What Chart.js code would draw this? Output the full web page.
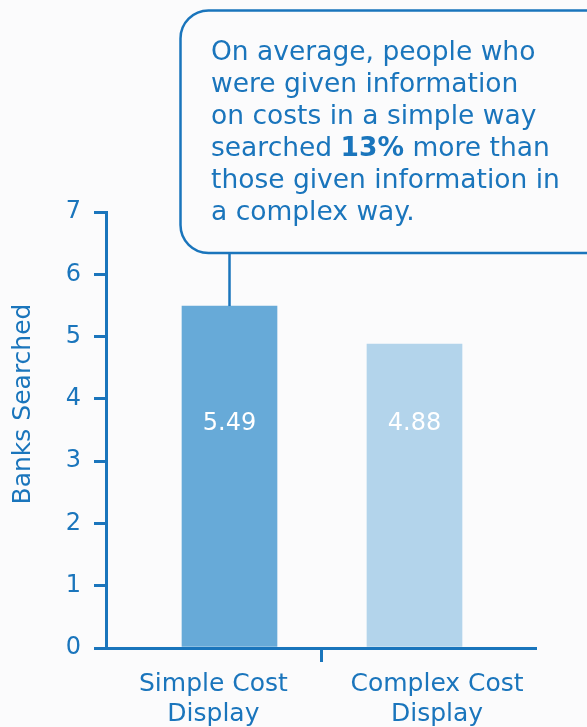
<!DOCTYPE html>
<html>
<head>
<meta charset="utf-8">
<script src="https://cdn.jsdelivr.net/npm/chart.js@4.4.1/dist/chart.umd.min.js"></script>
<style>
  html, body { margin: 0; padding: 0; background: #fbfbfc; }
  #wrap { width: 587px; height: 727px; }
</style>
</head>
<body>
<div id="wrap"><canvas id="chart" width="587" height="727"></canvas></div>
<script>
const categories = [['Simple Cost', 'Display'], ['Complex Cost', 'Display']];
const searched = [5.49, 4.88];
const barColors = ['#67aad8', '#b3d4eb'];
const yTicks = [0, 1, 2, 3, 4, 5, 6, 7];
const axisTitle = 'Banks Searched';
const noteLines = [
  [['On average, people who', false]],
  [['were given information', false]],
  [['on costs in a simple way', false]],
  [['searched ', false], ['13%', true], [' more than', false]],
  [['those given information in', false]],
  [['a complex way.', false]]
];

const BLUE = '#1a75bc';
const FONT = "'DejaVu Sans', sans-serif";

// x positions on a linear scale: bars at 0 and 1, labels a little apart
const labelPos = [-0.087, 1.122];

const overlay = {
  id: 'overlay',
  afterDatasetsDraw(chart) {
    const ctx = chart.ctx;
    const meta = chart.getDatasetMeta(0);
    const y = chart.scales.y;
    ctx.save();

    // values inside bars
    ctx.fillStyle = '#ffffff';
    ctx.font = '400 24px ' + FONT;
    ctx.textAlign = 'center';
    ctx.textBaseline = 'middle';
    meta.data.forEach((bar, i) => {
      ctx.fillText(searched[i].toFixed(2), bar.x, y.getPixelForValue(3.6));
    });

    // axis title
    ctx.save();
    ctx.translate(23, 404);
    ctx.rotate(-Math.PI / 2);
    ctx.fillStyle = BLUE;
    ctx.font = '400 25px ' + FONT;
    ctx.fillText(axisTitle, 0, 0);
    ctx.restore();

    // callout box + connector to first bar
    const first = meta.data[0];
    const boxBottom = 253;
    ctx.strokeStyle = BLUE;
    ctx.lineWidth = 2.5;
    ctx.beginPath();
    ctx.moveTo(first.x, boxBottom);
    ctx.lineTo(first.x, first.y);
    ctx.stroke();

    ctx.beginPath();
    ctx.roundRect(180.5, 10.5, 440, boxBottom - 10.5, 28);
    ctx.fillStyle = '#fbfbfc';
    ctx.fill();
    ctx.stroke();

    ctx.textAlign = 'left';
    ctx.textBaseline = 'alphabetic';
    ctx.fillStyle = BLUE;
    noteLines.forEach((parts, li) => {
      let x = 211;
      const by = 60 + li * 32;
      parts.forEach(([txt, bold]) => {
        ctx.font = (bold ? '700 ' : '400 ') + '26.5px ' + FONT;
        ctx.fillText(txt, x, by);
        x += ctx.measureText(txt).width;
      });
    });
    ctx.restore();
  }
};

new Chart(document.getElementById('chart'), {
  type: 'bar',
  data: {
    datasets: [{
      data: searched.map((v, i) => ({ x: i, y: v })),
      backgroundColor: barColors,
      borderWidth: 0,
      barThickness: 95
    }]
  },
  options: {
    responsive: false,
    animation: false,
    layout: { padding: { top: 212, right: 52, left: 0, bottom: 0 } },
    plugins: { legend: { display: false }, tooltip: { enabled: false } },
    scales: {
      x: {
        type: 'linear',
        offset: false,
        min: -0.6676,
        max: 1.6514,
        afterBuildTicks(scale) {
          scale.ticks = [{ value: labelPos[0] }, { value: 0.5 }, { value: labelPos[1] }];
        },
        afterFit(scale) { scale.height = 79; },
        border: { display: true, color: BLUE, width: 3 },
        grid: {
          offset: false,
          drawOnChartArea: false,
          tickLength: 14,
          lineWidth: 3,
          color: c => (c.index === 1 ? BLUE : 'rgba(0,0,0,0)')
        },
        ticks: {
          autoSkip: false,
          maxRotation: 0,
          padding: 7,
          color: BLUE,
          font: { family: FONT, size: 25, lineHeight: 1.2 },
          callback: (v, i) => (i === 1 ? '' : categories[i === 0 ? 0 : 1])
        }
      },
      y: {
        min: 0,
        max: 7,
        afterBuildTicks(scale) { scale.ticks = yTicks.map(v => ({ value: v })); },
        afterFit(scale) { scale.width = 106; },
        border: { display: true, color: BLUE, width: 3 },
        grid: { drawOnChartArea: false, tickLength: 12, lineWidth: 3, color: BLUE },
        ticks: {
          padding: 13,
          color: BLUE,
          font: { family: FONT, size: 24 }
        }
      }
    }
  },
  plugins: [overlay]
});
</script>
</body>
</html>
